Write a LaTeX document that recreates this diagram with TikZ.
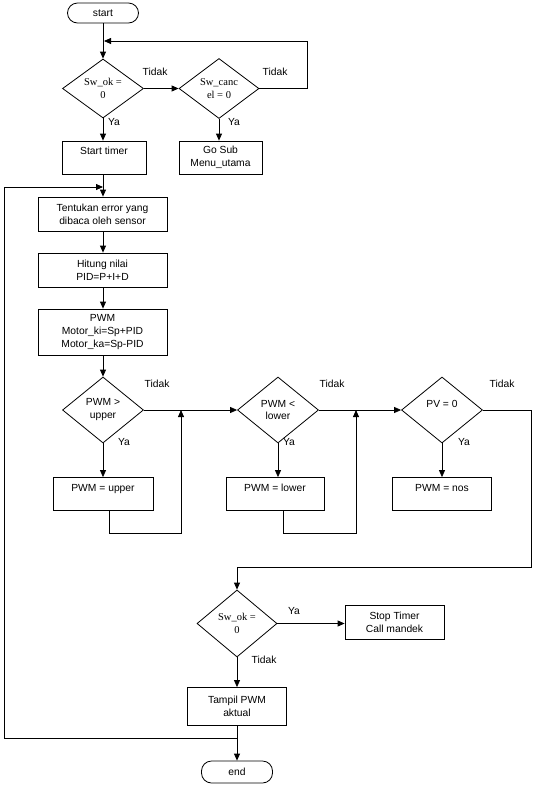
\documentclass[tikz,border=0pt]{standalone}
\usepackage{tikz}
\usepackage{fontspec}
\setmainfont{Liberation Sans}
\newfontfamily\serifdiamond{Liberation Serif}
\usetikzlibrary{arrows.meta}
\usetikzlibrary{shapes.geometric}

\begin{document}
\begin{tikzpicture}[x=1pt,y=-1pt,line width=0.8pt,
        >={Triangle[length=7pt,width=6pt]},
        every node/.style={font=\fontsize{10.3}{13}\selectfont},
        kotak/.style={draw,rectangle,align=center,inner sep=1pt,minimum width=100pt,minimum height=33pt},
        belah/.style={draw,diamond,aspect=1,inner sep=0pt,align=center,minimum width=81pt,minimum height=66pt},
        belahserif/.style={belah,font=\serifdiamond\fontsize{10.5}{12.5}\selectfont},
        ujung/.style={draw,rectangle,rounded corners=10pt,minimum width=71pt,minimum height=20pt,inner sep=0pt},
        tulisan/.style={inner sep=0pt}]
        \useasboundingbox (0,0) rectangle (555,785);
        % awal
        \node[ujung] (mulai) at (103,13) {start};
        \node[belahserif,minimum height=59pt] (cekok) at (103,88.5) {Sw\_ok =\\0};
        \node[belahserif,minimum width=80pt,minimum height=60pt] (cekcancel) at (219,88.5) {Sw\_canc\\el = 0};
        \node[kotak,minimum width=84pt] (timer) at (104,157.5) {Start timer\\\mbox{}};
        \node[kotak,minimum width=83pt] (gosub) at (220.5,157.5) {Go Sub\\Menu\_utama};
        \node[tulisan] (tidak1) at (155,72) {Tidak};
        \node[tulisan] (tidak2) at (275,72) {Tidak};
        \node[tulisan] (ya1) at (114,122) {Ya};
        \node[tulisan] (ya2) at (234,122) {Ya};
        % proses PID
        \node[kotak,minimum width=129pt,minimum height=34pt] (error) at (102.5,214) {Tentukan error yang\\dibaca oleh sensor};
        \node[kotak,minimum width=129pt,minimum height=34pt] (hitung) at (102.5,270) {Hitung nilai\\PID=P+I+D};
        \node[kotak,minimum width=129pt,minimum height=46pt] (pwm) at (102.5,332) {PWM\\Motor\_ki=Sp+PID\\Motor\_ka=Sp-PID};
        % batas PWM
        \node[belah] (upper) at (103,410) {PWM >\\upper};
        \node[belah] (lower) at (278,410) {PWM <\\lower};
        \node[belah] (pv) at (442,410) {PV = 0\\\mbox{}};
        \node[kotak] (setupper) at (103,494) {PWM = upper\\\mbox{}};
        \node[kotak,minimum width=98pt] (setlower) at (275,494) {PWM = lower\\\mbox{}};
        \node[kotak,minimum width=99pt] (setnos) at (442,494) {PWM = nos\\\mbox{}};
        \node[tulisan] (tidak3) at (157,384) {Tidak};
        \node[tulisan] (tidak4) at (332,384) {Tidak};
        \node[tulisan] (tidak5) at (502,384) {Tidak};
        \node[tulisan] (ya3) at (124,442) {Ya};
        \node[tulisan] (ya4) at (289,442) {Ya};
        \node[tulisan] (ya5) at (464,442) {Ya};
        % akhir
        \node[belahserif,minimum width=80pt,minimum height=67pt] (cekok2) at (237,623.5) {Sw\_ok =\\0};
        \node[kotak,minimum width=99pt,minimum height=34pt] (stop) at (394.5,622) {Stop Timer\\Call mandek};
        \node[kotak,minimum width=99pt,minimum height=38pt] (tampil) at (237,706.5) {Tampil PWM\\aktual};
        \node[ujung,minimum height=22pt] (selesai) at (237,772) {end};
        \node[tulisan] (ya6) at (294,611) {Ya};
        \node[tulisan] (tidak6) at (264,660) {Tidak};
        % titik bantu
        \coordinate (balik) at (104,41);
        \coordinate (kanan) at (307,41);
        \coordinate (masuk) at (103,187);
        \coordinate (kiri) at (4,738);
        \coordinate (gabung) at (237,738);
        \coordinate (temu1) at (181,410);
        \coordinate (temu2) at (356,410);
        \coordinate (belok) at (531,567);
        % garis
        \draw[->] (mulai) -- (cekok);
        \draw[->] (cekok) -- (cekcancel);
        \draw[->] (cekcancel.east) -| (kanan) -- (balik);
        \draw[->] (cekok) -- (cekok.south |- timer.north);
        \draw[->] (cekcancel) -- (cekcancel.south |- gosub.north);
        \draw[->] (timer.south -| cekok.south) -- (cekok.south |- error.north);
        \draw[->] (gabung) -- (kiri) |- (masuk);
        \draw[->] (error.south -| cekok.south) -- (cekok.south |- hitung.north);
        \draw[->] (hitung.south -| cekok.south) -- (cekok.south |- pwm.north);
        \draw[->] (pwm.south -| cekok.south) -- (upper);
        \draw[->] (upper) -- (lower);
        \draw[->] (lower) -- (pv);
        \draw[->] (upper) -- (setupper);
        \draw[->] (lower) -- (lower.south |- setlower.north);
        \draw[->] (pv) -- (setnos);
        \draw[->] ([xshift=6pt]setupper.south) -- ++(0,22) -| (temu1);
        \draw[->] ([xshift=8pt]setlower.south) -- ++(0,22) -| (temu2);
        \draw[->] (pv.east) -| (belok) -| (cekok2.north);
        \draw[->] (cekok2) -- (stop.west |- cekok2.east);
        \draw[->] (cekok2) -- (tampil);
        \draw[->] (tampil) -- (selesai);
\end{tikzpicture}
\end{document}
